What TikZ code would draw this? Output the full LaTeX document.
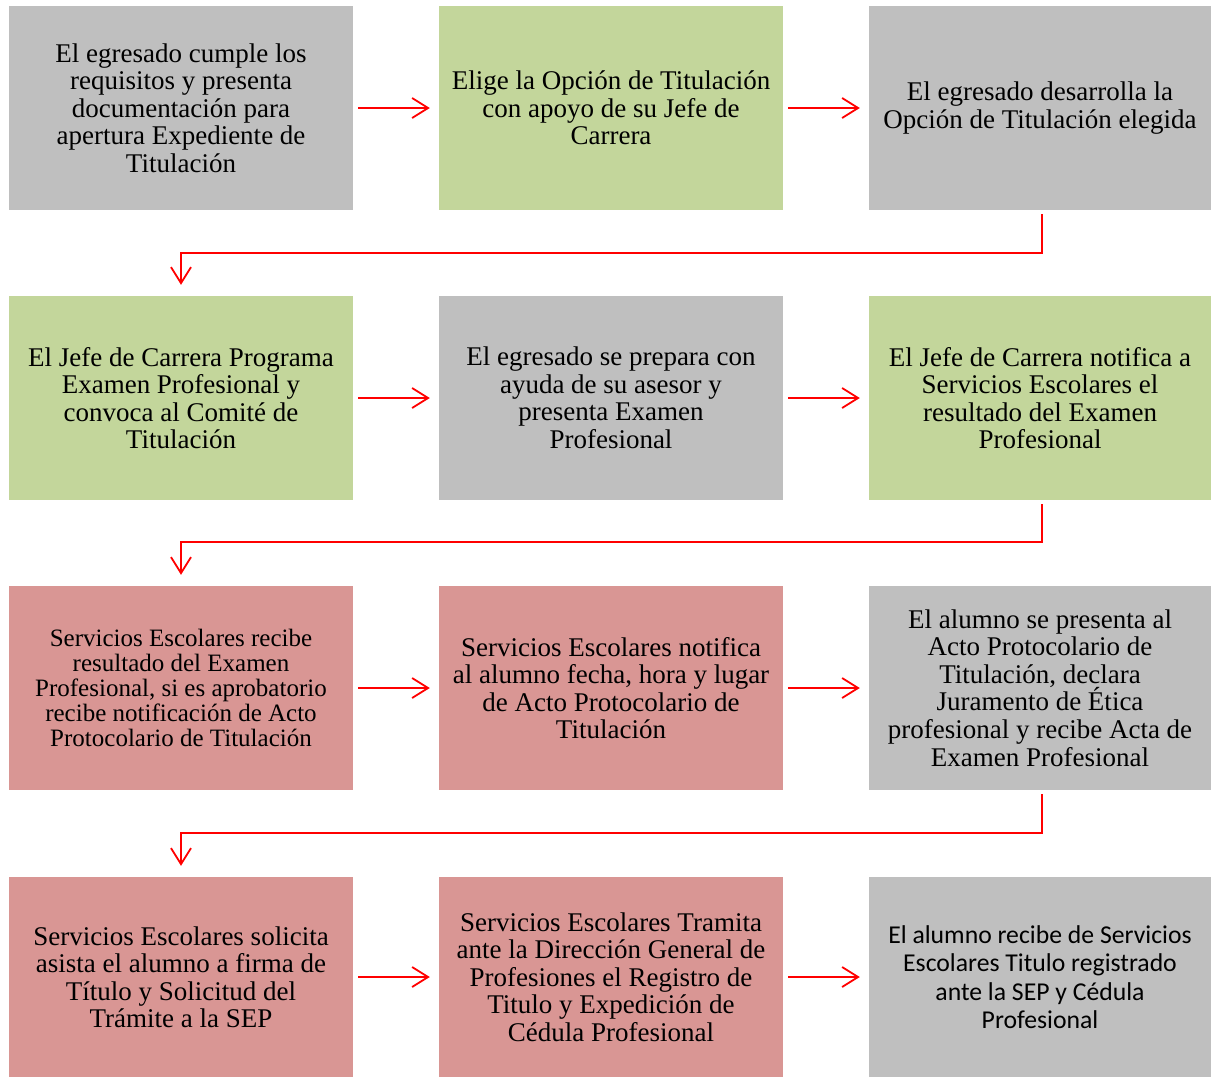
\documentclass[tikz,border=0pt]{standalone}
\usepackage{fontspec}
\setmainfont{Liberation Serif}
\newfontfamily\carl{Carlito}
\usetikzlibrary{arrows.meta}
\definecolor{bxgray}{HTML}{BFBFBF}
\definecolor{bxgreen}{HTML}{C3D69B}
\definecolor{bxpink}{HTML}{D99694}
\tikzset{
  box/.style={rectangle, draw=none, minimum width=344pt, minimum height=204pt, inner sep=0pt, align=center,
    font=\fontsize{27}{27.5}\selectfont},
  gbox/.style={box, fill=bxgray},
  vbox/.style={box, fill=bxgreen},
  pbox/.style={box, fill=bxpink},
  arr/.style={draw=red, line width=1.8pt, -{Straight Barb[length=16pt,width=20pt,line width=1.8pt]}},
  link/.style={draw=red, line width=1.8pt, -{Straight Barb[length=16pt,width=20pt,line width=1.8pt]}}
}
\begin{document}
\begin{tikzpicture}[x=1pt,y=-1pt]
\useasboundingbox (0,0) rectangle (1212,1077);
% row 1
\node[gbox] (a1) at (181,108) {El egresado cumple los\\requisitos y presenta\\documentación para\\apertura Expediente de\\Titulación};
\node[vbox] (a2) at (611,108) {Elige la Opción de Titulación\\con apoyo de su Jefe de\\Carrera};
\node[gbox, minimum width=342pt] (a3) at (1040,108) {El egresado desarrolla la\\Opción de Titulación elegida};
% row 2
\node[vbox] (b1) at (181,398) {El Jefe de Carrera Programa\\Examen Profesional y\\convoca al Comité de\\Titulación};
\node[gbox] (b2) at (611,398) {El egresado se prepara con\\ayuda de su asesor y\\presenta Examen\\Profesional};
\node[vbox, minimum width=342pt] (b3) at (1040,398) {El Jefe de Carrera notifica a\\Servicios Escolares el\\resultado del Examen\\Profesional};
% row 3
\node[pbox, font=\fontsize{25}{24.8}\selectfont] (c1) at (181,688) {Servicios Escolares recibe\\resultado del Examen\\Profesional, si es aprobatorio\\recibe notificación de Acto\\Protocolario de Titulación};
\node[pbox] (c2) at (611,688) {Servicios Escolares notifica\\al alumno fecha, hora y lugar\\de Acto Protocolario de\\Titulación};
\node[gbox, minimum width=342pt] (c3) at (1040,688) {El alumno se presenta al\\Acto Protocolario de\\Titulación, declara\\Juramento de Ética\\profesional y recibe Acta de\\Examen Profesional};
% row 4
\node[pbox, minimum height=200pt] (d1) at (181,977) {Servicios Escolares solicita\\asista el alumno a firma de\\Título y Solicitud del\\Trámite a la SEP};
\node[pbox, minimum height=200pt] (d2) at (611,977) {Servicios Escolares Tramita\\ante la Dirección General de\\Profesiones el Registro de\\Titulo y Expedición de\\Cédula Profesional};
\node[gbox, minimum width=342pt, minimum height=200pt, font=\carl\fontsize{25.7}{28.5}\selectfont] (d3) at (1040,977) {El alumno recibe de Servicios\\Escolares Titulo registrado\\ante la SEP y Cédula\\Profesional};
% horizontal arrows
\draw[arr] ([xshift=5pt]a1.east) -- ([xshift=-9pt]a2.west);
\draw[arr] ([xshift=5pt]a2.east) -- ([xshift=-9pt]a3.west);
\draw[arr] ([xshift=5pt]b1.east) -- ([xshift=-9pt]b2.west);
\draw[arr] ([xshift=5pt]b2.east) -- ([xshift=-9pt]b3.west);
\draw[arr] ([xshift=5pt]c1.east) -- ([xshift=-9pt]c2.west);
\draw[arr] ([xshift=5pt]c2.east) -- ([xshift=-9pt]c3.west);
\draw[arr] ([xshift=5pt]d1.east) -- ([xshift=-9pt]d2.west);
\draw[arr] ([xshift=5pt]d2.east) -- ([xshift=-9pt]d3.west);
% row links
\draw[link] ([xshift=2pt,yshift=-4pt]a3.south) -- ++(0,39) -| ([yshift=11pt]b1.north);
\draw[link] ([xshift=2pt,yshift=-4pt]b3.south) -- ++(0,38) -| ([yshift=11pt]c1.north);
\draw[link] ([xshift=2pt,yshift=-4pt]c3.south) -- ++(0,39) -| ([yshift=11pt]d1.north);
\end{tikzpicture}
\end{document}
